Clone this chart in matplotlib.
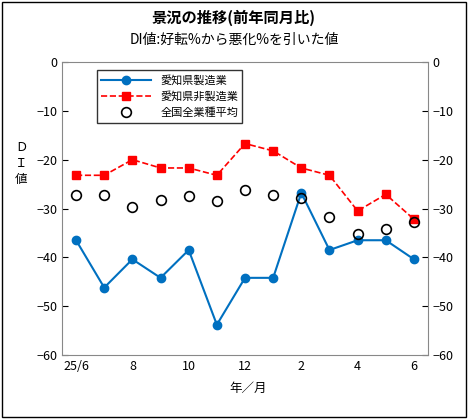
import matplotlib
matplotlib.use("Agg")
import matplotlib.pyplot as plt
from matplotlib.patches import Rectangle

plt.rcParams['font.family'] = ['Noto Sans CJK JP', 'DejaVu Sans']

months = ["25/6", "", "8", "", "10", "", "12", "", "2", "", "4", "", "6"]
manuf = [-36.5, -46.2, -40.4, -44.2, -38.5, -53.8, -44.2, -44.2, -26.8, -38.5, -36.5, -36.5, -40.4]
nonmanuf = [-23.2, -23.2, -20.0, -21.7, -21.7, -23.2, -16.7, -18.2, -21.7, -23.2, -30.5, -27.1, -32.2]
allind = [-27.3, -27.3, -29.6, -28.3, -27.5, -28.4, -26.2, -27.3, -27.9, -31.8, -35.3, -34.2, -32.8]

fig = plt.figure(figsize=(4.68, 4.19), dpi=100)
fig.patches.append(Rectangle((0.004, 0.004), 0.992, 0.992, transform=fig.transFigure,
                             fill=False, edgecolor='black', lw=1))
ax = fig.add_axes([62/468, 1-355/419, (428-62)/468, (355-62)/419])
x = list(range(len(months)))
ax.plot(x, manuf, color='#0070C0', marker='o', ms=6, lw=1.5, label='愛知県製造業')
ax.plot(x, nonmanuf, color='red', marker='s', ms=6, lw=1.2, ls='--', label='愛知県非製造業')
ax.plot(x, allind, ls='none', marker='o', ms=7, mfc='none', mec='black', mew=1.2, label='全国全業種平均')
ax.set_xlim(-0.5, 12.5)
ax.set_ylim(-60, 0)
ax.set_yticks(range(-60, 1, 10))
ax.set_yticklabels(['−60', '−50', '−40', '−30', '−20', '−10', '0'], fontsize=9)
ax.set_xticks(x)
ax.set_xticklabels(months, fontsize=9)
ax.tick_params(direction='in', length=4, right=True, labelright=True)
ax.tick_params(axis='x', length=0)
for s in ax.spines.values():
    s.set_color('#888888')
ax.legend(loc='upper left', bbox_to_anchor=(0.08, 0.99), fontsize=8, frameon=True,
          fancybox=False, edgecolor='black', handlelength=4.5)
fig.text(0.5, 0.945, '景況の推移(前年同月比)', ha='center', fontsize=11, fontweight='bold')
fig.text(0.5, 0.895, 'DI値:好転%から悪化%を引いた値', ha='center', fontsize=10)
fig.text(0.045, 0.61, 'Ｄ\nＩ\n値', ha='center', va='center', fontsize=9, linespacing=1.3)
fig.text(0.53, 0.065, '年／月', ha='center', fontsize=9)
fig.savefig('out.png', dpi=100)
